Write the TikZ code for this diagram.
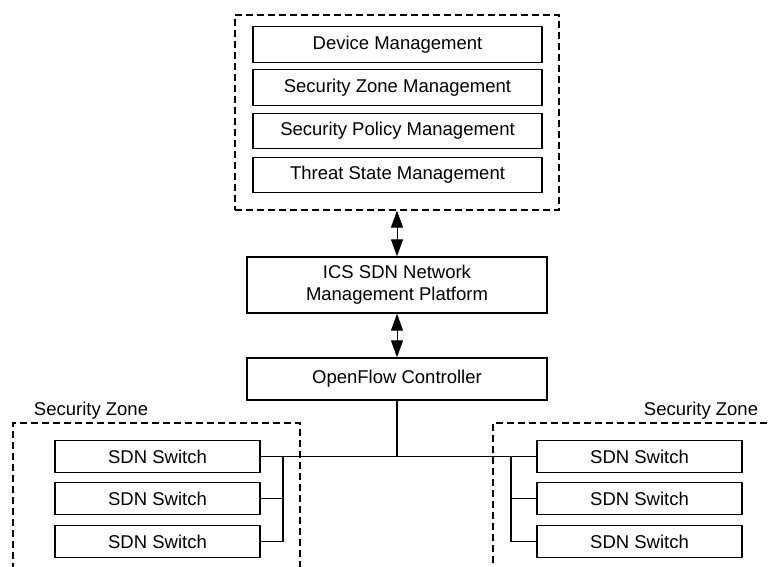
\documentclass[tikz,border=0pt]{standalone}
\usepackage{fontspec}
\setmainfont{Liberation Sans}
\usetikzlibrary{arrows.meta}

\tikzset{
  every node/.style={font=\fontsize{18.5}{22}\selectfont},
  box/.style={draw, line width=1.4pt, inner sep=0pt, align=center},
  mgmtbox/.style={box, minimum width=289pt, minimum height=35.5pt},
  switchbox/.style={box, minimum width=205pt, minimum height=31.5pt},
  ctrlbox/.style={box, minimum width=300pt},
  zonebox/.style={draw, line width=1.2pt, dash pattern=on 7pt off 4pt, inner sep=0pt},
  dblarrow/.style={line width=1pt, {Triangle[length=17pt,width=12pt]}-{Triangle[length=17pt,width=12pt]}},
  link/.style={line width=1.4pt}
}

\begin{document}
\begin{tikzpicture}[x=1pt, y=-1pt]
\useasboundingbox (0,0) rectangle (771,567);
\clip (0,0) rectangle (771,567);

% management functions grouped in a dashed frame
\node[zonebox, minimum width=324pt, minimum height=195pt] (mgmt) at (397,112.5) {};
\node[mgmtbox] (dev) at (397.5,44.5) {Device Management};
\node[mgmtbox] (zone) at (397.5,87.5) {Security Zone Management};
\node[mgmtbox] (policy) at (397.5,131) {Security Policy Management};
\node[mgmtbox] (threat) at (397.5,175) {Threat State Management};

% platform and controller
\node[ctrlbox, minimum height=56pt] (ics) at (397,285) {ICS SDN Network\\Management Platform};
\node[ctrlbox, minimum height=42pt] (ofc) at (397,379) {OpenFlow Controller};

\draw[dblarrow] (mgmt.south) -- (ics.north);
\draw[dblarrow] (ics.south) -- (ofc.north);

% security zones
\node[zonebox, minimum width=287pt, minimum height=177pt] (zl) at (156.5,511.5) {};
\node[zonebox, minimum width=307pt, minimum height=177pt] (zr) at (646.5,511.5) {};
\node (zll) at (91,411) {Security Zone};
\node (zrl) at (701,411) {Security Zone};

\node[switchbox] (l1) at (157.5,456.5) {SDN Switch};
\node[switchbox] (l2) at (157.5,498.5) {SDN Switch};
\node[switchbox] (l3) at (157.5,541.5) {SDN Switch};
\node[switchbox] (r1) at (639.5,456.5) {SDN Switch};
\node[switchbox] (r2) at (639.5,498.5) {SDN Switch};
\node[switchbox] (r3) at (639.5,541.5) {SDN Switch};

% wiring from the controller to the switches
\coordinate (lb) at (283,456.5);
\coordinate (rb) at (511,456.5);
\draw[link] (l1.east) -- (r1.west);
\draw[link] (ofc.south) -- (ofc.south |- l1.east);
\draw[link] (lb) |- (l3.east);
\draw[link] (lb |- l2.east) -- (l2.east);
\draw[link] (rb) |- (r3.west);
\draw[link] (rb |- r2.west) -- (r2.west);
\end{tikzpicture}
\end{document}
